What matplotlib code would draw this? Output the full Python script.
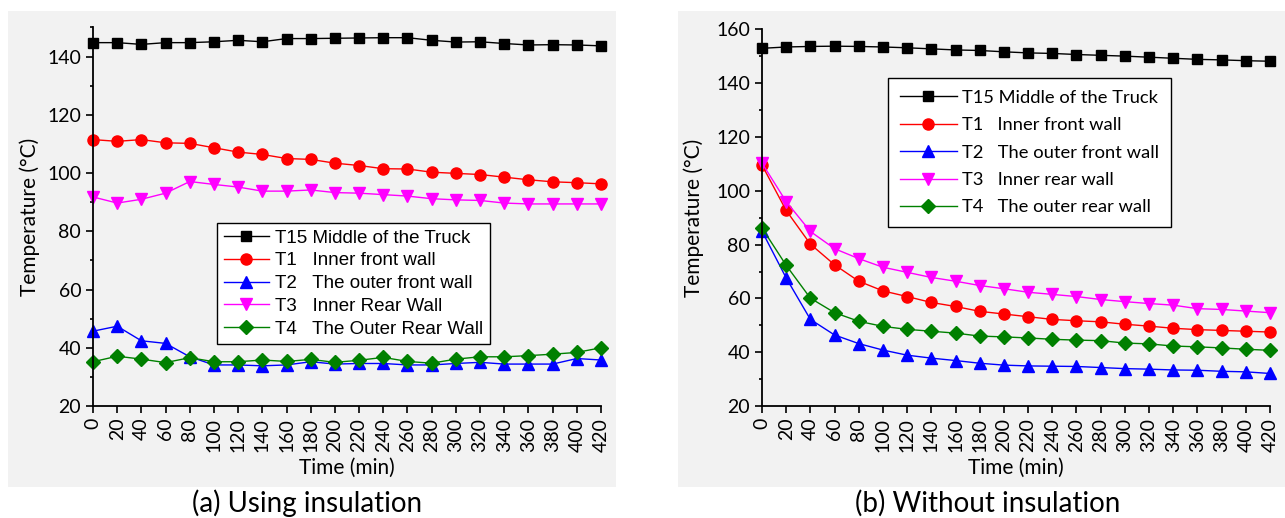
import matplotlib
matplotlib.use('Agg')
import matplotlib.pyplot as plt
import numpy as np
from matplotlib.patches import Rectangle
from matplotlib.ticker import MultipleLocator

# time axis (min)
time = list(range(0, 421, 20))

# (a) using insulation
a_t15 = [144.8, 144.8, 144.2, 144.8, 144.8, 145.1, 145.6, 145.1, 146.2, 146.2, 146.3,
         146.4, 146.5, 146.5, 145.6, 145.0, 145.1, 144.5, 144.0, 144.1, 144.0, 143.7]
a_t1 = [111.5, 110.9, 111.5, 110.4, 110.2, 108.7, 107.2, 106.4, 105.0, 104.7, 103.4,
        102.6, 101.5, 101.4, 100.3, 99.9, 99.5, 98.6, 97.7, 97.0, 96.7, 96.3]
a_t2 = [45.7, 47.4, 42.4, 41.5, 36.9, 34.1, 34.1, 33.8, 34.1, 35.2, 34.4,
        34.6, 34.6, 34.1, 34.1, 34.6, 35.0, 34.4, 34.4, 34.4, 36.3, 35.8]
a_t3 = [91.8, 89.7, 91.0, 93.1, 97.1, 96.1, 95.2, 93.8, 93.8, 94.2, 93.3,
        93.1, 92.6, 92.1, 91.2, 90.8, 90.6, 89.7, 89.4, 89.4, 89.4, 89.4]
a_t4 = [35.2, 37.1, 36.1, 34.9, 36.6, 35.2, 35.2, 35.8, 35.3, 36.0, 35.0,
        35.7, 36.7, 35.3, 34.7, 36.1, 36.9, 36.9, 37.3, 37.8, 38.4, 40.0]

# (b) without insulation
b_t15 = [153.0, 153.5, 153.7, 153.8, 153.7, 153.5, 153.2, 152.8, 152.4, 152.2, 151.7,
         151.3, 151.1, 150.7, 150.4, 150.1, 149.7, 149.3, 148.9, 148.7, 148.4, 148.2]
b_t1 = [109.6, 92.7, 80.2, 72.5, 66.4, 62.8, 60.7, 58.5, 57.0, 55.2, 54.2,
        53.2, 52.2, 51.7, 51.3, 50.4, 49.7, 48.9, 48.4, 48.1, 47.8, 47.5]
b_t2 = [85.0, 67.6, 52.2, 46.4, 43.2, 40.8, 38.9, 37.8, 36.9, 35.9, 35.2,
        34.9, 34.8, 34.7, 34.3, 33.9, 33.7, 33.4, 33.3, 32.9, 32.7, 32.1]
b_t3 = [110.3, 96.0, 84.9, 78.5, 74.8, 71.6, 69.7, 67.8, 66.4, 64.8, 63.6,
        62.3, 61.5, 60.7, 59.6, 58.8, 58.1, 57.5, 56.2, 55.9, 55.3, 54.7]
b_t4 = [86.2, 72.3, 60.1, 54.7, 51.5, 49.6, 48.5, 47.8, 47.1, 46.0, 45.7,
        45.3, 44.8, 44.5, 44.3, 43.4, 43.1, 42.3, 42.0, 41.6, 41.1, 40.7]

labels_a = ['T15 Middle of the Truck', 'T1   Inner front wall', 'T2   The outer front wall',
            'T3   Inner Rear Wall', 'T4   The Outer Rear Wall']
labels_b = ['T15 Middle of the Truck', 'T1   Inner front wall', 'T2   The outer front wall',
            'T3   Inner rear wall', 'T4   The outer rear wall']

colors = ['black', 'red', 'blue', 'magenta', 'green']
markers = ['s', 'o', '^', 'v', 'D']
msizes = [7, 8, 8, 8, 7]

cal = ['Lato', 'DejaVu Sans']
ari = ['Liberation Sans', 'DejaVu Sans']

W, H = 1285, 518
fig = plt.figure(figsize=(W / 100, H / 100), dpi=100)

# grey panel backgrounds
fig.patches.append(Rectangle((8 / W, 1 - 487 / H), (616 - 8) / W, (487 - 11) / H,
                             transform=fig.transFigure, facecolor='#f2f2f2', edgecolor='none', zorder=-5))
fig.patches.append(Rectangle((678 / W, 1 - 487 / H), (1285 - 678) / W, (487 - 11) / H,
                             transform=fig.transFigure, facecolor='#f2f2f2', edgecolor='none', zorder=-5))

ax0 = fig.add_axes([93 / W, 1 - 406 / H, 508 / W, (406 - 27.5) / H])
ax1 = fig.add_axes([762 / W, 1 - 406 / H, 508 / W, (406 - 29.5) / H])

series_a = [a_t15, a_t1, a_t2, a_t3, a_t4]
series_b = [b_t15, b_t1, b_t2, b_t3, b_t4]

for ax, series, labels, ytop in [(ax0, series_a, labels_a, 150), (ax1, series_b, labels_b, 160)]:
    ax.set_facecolor('none')
    for s, c, m, ms, lab in zip(series, colors, markers, msizes, labels):
        ax.plot(time, s, color=c, marker=m, markersize=ms, lw=1.0, label=lab, clip_on=False)
    ax.set_xlim(0, 420)
    ax.set_ylim(20, ytop)
    ax.set_xticks(time)
    ax.yaxis.set_major_locator(MultipleLocator(20))
    ax.yaxis.set_minor_locator(MultipleLocator(10))
    for sp in ['top', 'right']:
        ax.spines[sp].set_visible(False)
    for sp in ['left', 'bottom']:
        ax.spines[sp].set_linewidth(1.3)
    ax.tick_params(which='major', direction='out', length=5, width=1.2, labelsize=14)
    ax.tick_params(which='minor', direction='out', length=2.5, width=1.2)
    for lbl in ax.get_xticklabels() + ax.get_yticklabels():
        lbl.set_family(cal)
    plt.setp(ax.get_xticklabels(), rotation=90)
    ax.set_xlabel('Time (min)', fontsize=15, family=cal)
    ax.set_ylabel('Temperature (°C)', fontsize=15, family=cal)

ax0.xaxis.set_label_coords(0.5, -0.137)
ax0.yaxis.set_label_coords(-0.105, 0.50)
ax1.xaxis.set_label_coords(0.5, -0.137)
ax1.yaxis.set_label_coords(-0.115, 0.50)

leg0 = ax0.legend(loc='upper left', bbox_to_anchor=(124 / 508, (406 - 223) / (406 - 27.5)),
                  prop={'family': ari, 'size': 13.5}, frameon=True, fancybox=False,
                  edgecolor='black', framealpha=1, handlelength=2.4, labelspacing=0.3,
                  borderpad=0.35, handletextpad=0.35, borderaxespad=0)
leg0.get_frame().set_linewidth(1.0)
leg1 = ax1.legend(loc='upper left', bbox_to_anchor=(126 / 508, (406 - 78) / (406 - 29.5)),
                  prop={'family': cal, 'size': 13.2}, frameon=True, fancybox=False,
                  edgecolor='black', framealpha=1, handlelength=3.1, labelspacing=0.62,
                  borderpad=0.65, handletextpad=0.3, borderaxespad=0)
leg1.get_frame().set_linewidth(1.0)

fig.text(307 / W, 1 - 503 / H, '(a) Using insulation', ha='center', va='center',
         fontsize=20, family=cal)
fig.text(988 / W, 1 - 503 / H, '(b) Without insulation', ha='center', va='center',
         fontsize=20, family=cal)

fig.savefig('out.png', dpi=100, facecolor='white')
